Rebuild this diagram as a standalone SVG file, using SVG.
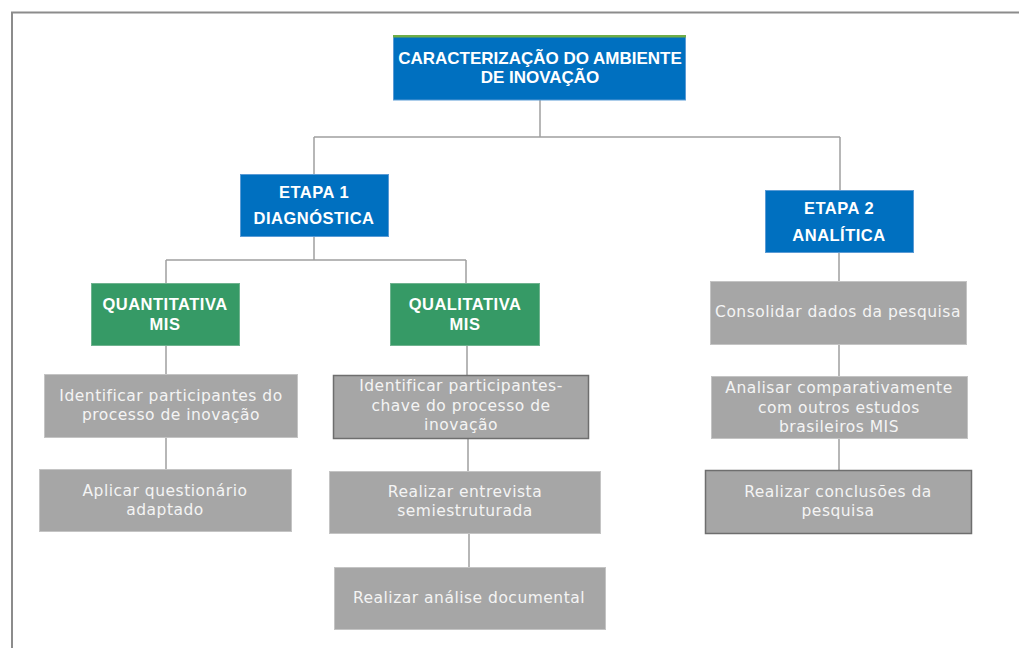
<svg xmlns="http://www.w3.org/2000/svg" width="1019" height="648" viewBox="0 0 1019 648">
  <style>
    .frame { fill: none; stroke: #8c8c8c; stroke-width: 2; }
    .link { fill: none; stroke: #a0a0a0; stroke-width: 1.5; }
    .blue { fill: #0070c0; stroke: #5b9bd5; stroke-width: 1; }
    .green { fill: #369a66; stroke: #6fb38f; stroke-width: 1; }
    .gray { fill: #a6a6a6; stroke: #c4c4c4; stroke-width: 1; }
    .gray-dark { fill: #a6a6a6; stroke: #6e6e6e; stroke-width: 1.5; }
    .head { font-family: "Liberation Sans", Arial, sans-serif; font-weight: bold; font-size: 16.5px; letter-spacing: 0.5px; fill: #ffffff; text-anchor: middle; }
    .title { font-size: 17px; letter-spacing: 0; }
    .step { font-family: "DejaVu Sans", "Liberation Sans", sans-serif; font-size: 15.5px; letter-spacing: 0.5px; fill: #f4f4f4; text-anchor: middle; }
  </style>

  <!-- outer frame: top and left edges -->
  <path class="frame" d="M12 648 V12.5 H1019"/>

  <g id="connectors">
    <path class="link" d="M540 100 V137 M314 137 H840 M314 137 V174 M840 137 V190"/>
    <path class="link" d="M314 237 V260 M166 260 H466 M166 260 V283 M466 260 V283"/>
    <path class="link" d="M166 346 V374 M166 438 V469"/>
    <path class="link" d="M467 346 V375 M468 439 V471 M469 533 V567"/>
    <path class="link" d="M839 253 V281 M839 344 V376 M839 438 V470"/>
  </g>

  <g id="root">
    <rect class="blue" x="393.5" y="36" width="292" height="64"/>
    <rect x="393" y="35" width="293" height="2.5" fill="#70ad47"/>
    <text class="head title" x="540" y="64">CARACTERIZAÇÃO DO AMBIENTE</text>
    <text class="head title" x="540" y="83">DE INOVAÇÃO</text>
  </g>

  <g id="etapa1">
    <rect class="blue" x="240.5" y="174.5" width="148" height="62"/>
    <text class="head" x="314" y="198">ETAPA 1</text>
    <text class="head" x="314" y="224">DIAGNÓSTICA</text>
  </g>

  <g id="etapa2">
    <rect class="blue" x="765.5" y="190.5" width="148" height="62"/>
    <text class="head" x="839" y="214">ETAPA 2</text>
    <text class="head" x="839" y="241">ANALÍTICA</text>
  </g>

  <g id="quantitativa">
    <rect class="green" x="91.5" y="283.5" width="148" height="62"/>
    <text class="head" x="165" y="310">QUANTITATIVA</text>
    <text class="head" x="165" y="330">MIS</text>
  </g>

  <g id="qualitativa">
    <rect class="green" x="390.5" y="283.5" width="149" height="62"/>
    <text class="head" x="465" y="310">QUALITATIVA</text>
    <text class="head" x="465" y="330">MIS</text>
  </g>

  <g id="identificar-participantes">
    <rect class="gray" x="44.5" y="374.5" width="253" height="63"/>
    <text class="step" x="171" y="401">Identificar participantes do</text>
    <text class="step" x="171" y="420">processo de inovação</text>
  </g>

  <g id="aplicar-questionario">
    <rect class="gray" x="39.5" y="469.5" width="252" height="62"/>
    <text class="step" x="165" y="496">Aplicar questionário</text>
    <text class="step" x="165" y="515">adaptado</text>
  </g>

  <g id="identificar-chave">
    <rect class="gray-dark" x="333.5" y="375.5" width="255" height="63"/>
    <text class="step" x="461" y="391">Identificar participantes-</text>
    <text class="step" x="461" y="411">chave do processo de</text>
    <text class="step" x="461" y="430">inovação</text>
  </g>

  <g id="realizar-entrevista">
    <rect class="gray" x="329.5" y="471.5" width="271" height="62"/>
    <text class="step" x="465" y="497">Realizar entrevista</text>
    <text class="step" x="465" y="516">semiestruturada</text>
  </g>

  <g id="analise-documental">
    <rect class="gray" x="334.5" y="567.5" width="271" height="62"/>
    <text class="step" x="469" y="603">Realizar análise documental</text>
  </g>

  <g id="consolidar-dados">
    <rect class="gray" x="710.5" y="281.5" width="256" height="63"/>
    <text class="step" x="838" y="317">Consolidar dados da pesquisa</text>
  </g>

  <g id="analisar-comparativamente">
    <rect class="gray" x="711.5" y="376.5" width="256" height="62"/>
    <text class="step" x="839" y="393">Analisar comparativamente</text>
    <text class="step" x="839" y="413">com outros estudos</text>
    <text class="step" x="839" y="432">brasileiros MIS</text>
  </g>

  <g id="realizar-conclusoes">
    <rect class="gray-dark" x="705.5" y="470.5" width="266" height="63"/>
    <text class="step" x="838" y="497">Realizar conclusões da</text>
    <text class="step" x="838" y="516">pesquisa</text>
  </g>
</svg>
